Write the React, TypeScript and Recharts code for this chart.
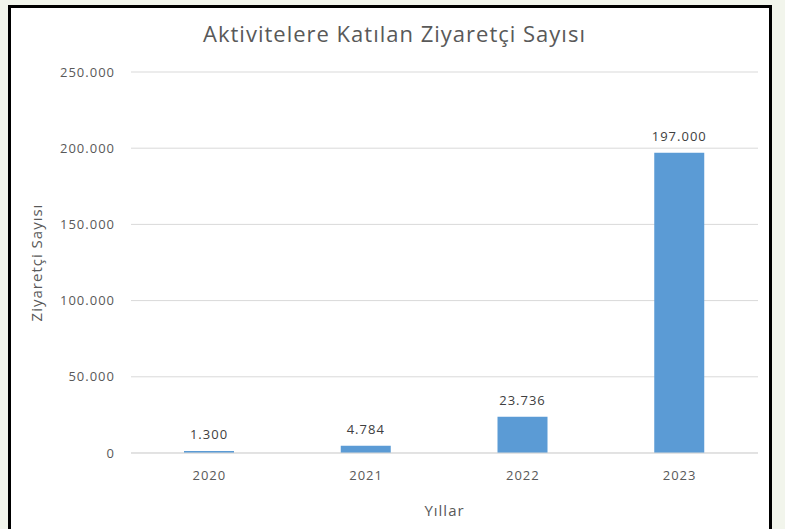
import { BarChart, Bar, XAxis, YAxis, CartesianGrid, LabelList, Label } from 'recharts'

const years = ['2020', '2021', '2022', '2023']
const visitors = [1300, 4784, 23736, 197000]
const yTicks = [0, 50000, 100000, 150000, 200000, 250000]

const data = years.map((year, i) => ({ year, visitors: visitors[i] }))

// 250000 -> "250.000"
const fmt = (v: number) => String(Math.round(v)).replace(/\B(?=(\d{3})+(?!\d))/g, '.')

const FONT = "'Open Sans', 'Noto Sans', sans-serif"
const tickStyle = { fill: '#595959', fontSize: 13, fontFamily: FONT, letterSpacing: 1 }

export default function App() {
  return (
    <div
      style={{
        position: 'absolute',
        left: 0,
        top: 0,
        width: 785,
        height: 529,
        background: '#f2f5ec',
        overflow: 'hidden',
        fontFamily: FONT,
      }}
    >
      <div
        style={{
          position: 'absolute',
          left: 8,
          top: 5,
          width: 758,
          height: 560,
          border: '3px solid #000',
          background: '#fff',
        }}
      />
      <div
        style={{
          position: 'absolute',
          left: 0,
          width: 785,
          top: 18,
          textAlign: 'center',
          fontSize: 22,
          letterSpacing: 1,
          color: '#595959',
          paddingLeft: 2,
        }}
      >
        Aktivitelere Katılan Ziyaretçi Sayısı
      </div>
      <div style={{ position: 'absolute', left: 0, top: 0 }}>
        <BarChart
          width={785}
          height={529}
          data={data}
          margin={{ top: 72, right: 27, left: 71, bottom: 0 }}
          barSize={50}
        >
          <CartesianGrid vertical={false} stroke="#d9d9d9" />
          <XAxis
            dataKey="year"
            height={76}
            tickSize={0}
            tickMargin={18}
            axisLine={{ stroke: '#d9d9d9' }}
            tick={tickStyle}
          >
            <Label
              value="Yıllar"
              position="insideBottom"
              offset={13}
              style={{ fill: '#595959', fontSize: 15, letterSpacing: 1, fontFamily: FONT }}
            />
          </XAxis>
          <YAxis
            width={60}
            domain={[0, 250000]}
            ticks={yTicks}
            tickSize={0}
            tickMargin={16}
            axisLine={false}
            tickFormatter={fmt}
            tick={tickStyle}
          >
            <Label
              value="Ziyaretçi Sayısı"
              angle={-90}
              position="insideLeft"
              offset={-34}
              style={{ fill: '#595959', fontSize: 15, letterSpacing: 1, fontFamily: FONT, textAnchor: 'middle' }}
            />
          </YAxis>
          <Bar dataKey="visitors" fill="#5b9bd5" isAnimationActive={false}>
            <LabelList
              dataKey="visitors"
              position="top"
              offset={12}
              formatter={(v: any) => fmt(Number(v))}
              style={{ fill: '#404040', fontSize: 13, letterSpacing: 1, fontFamily: FONT }}
            />
          </Bar>
        </BarChart>
      </div>
    </div>
  )
}
